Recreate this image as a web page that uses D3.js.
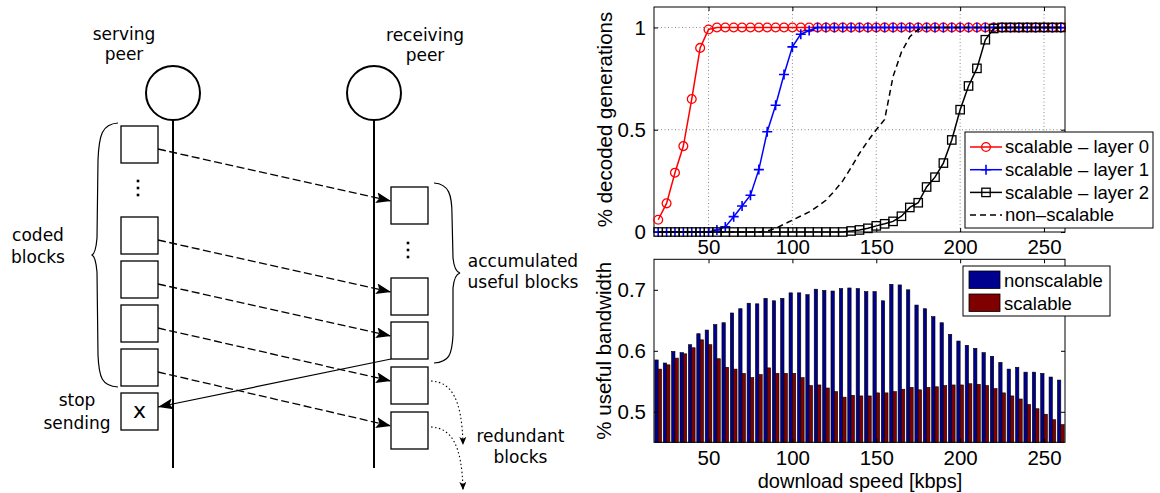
<!DOCTYPE html>
<meta charset="utf-8">
<script src="https://d3js.org/d3.v7.min.js"></script>
<style>
  body { margin: 0; background: #fff; }
  .chart text { font-family: "Liberation Sans", Arial, sans-serif; }
  .diagram text { font-family: "DejaVu Sans", sans-serif; fill: #000; }
</style>
<body>
<svg id="fig" width="1160" height="493"></svg>
<script>
// ---- data ----
// download speed [kbps]
var speeds = [20,25,30,35,40,45,50,55,60,65,70,75,80,85,90,95,100,105,110,115,120,125,130,135,140,
              145,150,155,160,165,170,175,180,185,190,195,200,205,210,215,220,225,230,235,240,245,250,255,260];

// % decoded generations
var layer0 = [0.06,0.14,0.29,0.42,0.65,0.90,0.99,1,1,1,1,1,1,1,1,1,1,1,1,1,1,1,1,1,1,
              1,1,1,1,1,1,1,1,1,1,1,1,1,1,1,1,1,1,1,1,1,1,1,1];
var layer1 = [0,0,0,0,0,0,0,0.01,0.025,0.075,0.127,0.18,0.305,0.49,0.62,0.77,0.905,0.967,0.985,1,1,1,1,1,1,
              1,1,1,1,1,1,1,1,1,1,1,1,1,1,1,1,1,1,1,1,1,1,1,1];
var layer2 = [0,0,0,0,0,0,0,0,0,0,0,0,0,0,0,0,0,0,0,0,0,0,0,0.005,0.01,
              0.018,0.03,0.04,0.052,0.077,0.12,0.143,0.22,0.268,0.337,0.45,0.598,0.714,0.8,0.94,0.995,1,1,1,1,1,1,1,1];
var nonScalable = [0,0,0,0,0,0,0,0,0,0,0,0,0,0.005,0.018,0.038,0.058,0.078,0.098,0.125,0.155,0.2,0.25,0.315,0.385,
                   0.445,0.5,0.55,0.76,0.88,0.955,0.99,1,1,1,1,1,1,1,1,1,1,1,1,1,1,1,1,1];

// % useful bandwidth
var bwNonscalable = [0.585,0.580,0.599,0.597,0.610,0.628,0.634,0.643,0.646,0.662,0.669,0.678,0.677,0.686,0.682,0.686,
                     0.695,0.695,0.692,0.701,0.699,0.698,0.702,0.703,0.702,0.697,0.697,0.682,0.709,0.708,0.700,0.675,
                     0.669,0.656,0.646,0.627,0.616,0.609,0.604,0.597,0.591,0.581,0.570,0.573,0.565,0.565,0.563,0.557,0.552];
var bwScalable = [0.570,0.577,0.588,0.595,0.605,0.618,0.610,0.587,0.573,0.570,0.563,0.556,0.561,0.572,0.563,0.563,
                  0.563,0.556,0.543,0.544,0.539,0.533,0.524,0.527,0.526,0.526,0.531,0.531,0.533,0.537,0.540,0.536,
                  0.540,0.541,0.543,0.544,0.544,0.546,0.545,0.543,0.538,0.531,0.526,0.521,0.512,0.505,0.496,0.487,0.479];

var xTicks = [50,100,150,200,250];
var yTicksTop = [0,0.5,1];
var yTicksBot = [0.5,0.6,0.7];

var svg = d3.select("#fig");

// defs: arrow heads
var defs = svg.append("defs");
defs.append("marker").attr("id","arrow").attr("markerUnits","userSpaceOnUse")
    .attr("viewBox","0 0 15 11").attr("refX",15).attr("refY",5.5)
    .attr("markerWidth",15).attr("markerHeight",11).attr("orient","auto")
  .append("path").attr("d","M0,0 L15,5.5 L0,11 L3,5.5 z").attr("fill","#000");
defs.append("marker").attr("id","arrowSmall").attr("markerUnits","userSpaceOnUse")
    .attr("viewBox","0 0 8 7").attr("refX",8).attr("refY",3.5)
    .attr("markerWidth",8).attr("markerHeight",7).attr("orient","auto")
  .append("path").attr("d","M0,0 L8,3.5 L0,7 L2,3.5 z").attr("fill","#000");

// =================== left: diagram ===================
var diag = svg.append("g").attr("class","diagram");
var serveX = 173, recvX = 374, peerY = 93, peerR = 27, lineTop = 120, lineBottom = 468;
var blockW = 37;
var serveBlockX = 121, serveTops = [126,217,261,305,349,393];
var recvBlockX = 391, recvTops = [187,278,322,367,412];

[serveX, recvX].forEach(function(cx){
  diag.append("circle").attr("cx",cx).attr("cy",peerY).attr("r",peerR)
      .attr("fill","none").attr("stroke","#000").attr("stroke-width",2);
  diag.append("line").attr("x1",cx).attr("x2",cx).attr("y1",lineTop).attr("y2",lineBottom)
      .attr("stroke","#000").attr("stroke-width",2);
});

// dashed send arrows (serving block i -> receiving block i)
var sendPairs = recvTops.map(function(r,i){ return [serveTops[i], r]; });
diag.selectAll(".send").data(sendPairs).enter().append("line")
    .attr("x1",serveBlockX+blockW).attr("y1",function(d){return d[0]+23;})
    .attr("x2",recvBlockX).attr("y2",function(d){return d[1]+14;})
    .attr("stroke","#000").attr("stroke-width",1.3).attr("stroke-dasharray","8,3.5")
    .attr("marker-end","url(#arrow)");

// feedback arrow
diag.append("line").attr("x1",recvBlockX).attr("y1",recvTops[2]+blockW)
    .attr("x2",serveBlockX+blockW).attr("y2",serveTops[5]+14)
    .attr("stroke","#000").attr("stroke-width",1.2).attr("marker-end","url(#arrow)");

// blocks
diag.selectAll(".sb").data(serveTops).enter().append("rect")
    .attr("x",serveBlockX).attr("y",function(d){return d;}).attr("width",blockW).attr("height",blockW)
    .attr("fill","#fff").attr("stroke","#000").attr("stroke-width",1.3);
diag.selectAll(".rb").data(recvTops).enter().append("rect")
    .attr("x",recvBlockX).attr("y",function(d){return d;}).attr("width",blockW).attr("height",blockW)
    .attr("fill","#fff").attr("stroke","#000").attr("stroke-width",1.3);

// vertical ellipses
[[138,[181,188,195]],[408,[243,250,257]]].forEach(function(e){
  e[1].forEach(function(y){
    diag.append("rect").attr("x",e[0]-1.3).attr("y",y-1.3).attr("width",2.6).attr("height",2.6).attr("fill","#000");
  });
});

// braces
diag.append("path")
    .attr("d","M118,123 C102,124 99,135 98,160 L97,238 C96,250 94,254 92,255 C94,256 96,260 97,272 L98,355 C99,378 102,386 118,387")
    .attr("fill","none").attr("stroke","#000").attr("stroke-width",1.2);
diag.append("path")
    .attr("d","M434,183 C449,184 452,195 452,215 L453,258 C454,268 456,272 460,273 C456,274 454,278 453,288 L453,335 C452,355 449,362 434,363")
    .attr("fill","none").attr("stroke","#000").attr("stroke-width",1.2);

// redundant dotted arrows
diag.append("path").attr("d","M431,381 C452,382 462,400 463,445")
    .attr("fill","none").attr("stroke","#000").attr("stroke-width",1.1).attr("stroke-dasharray","1.5,2.5")
    .attr("marker-end","url(#arrowSmall)");
diag.append("path").attr("d","M431,427 C452,428 462,446 463,490")
    .attr("fill","none").attr("stroke","#000").attr("stroke-width",1.1).attr("stroke-dasharray","1.5,2.5")
    .attr("marker-end","url(#arrowSmall)");

// diagram text
function label(lines, cx, y0, dy, size){
  lines.forEach(function(s,i){
    diag.append("text").attr("x",cx).attr("y",y0+i*dy).attr("text-anchor","middle")
        .attr("font-size",size||17).text(s);
  });
}
label(["serving","peer"],124,40,20);
label(["receiving","peer"],425,41,20);
label(["coded","blocks"],38,240.5,22);
label(["stop","sending"],77,406,23);
label(["accumulated","useful blocks"],523,266.5,21.5);
label(["redundant","blocks"],520.5,441.5,21.5);
diag.append("text").attr("x",serveBlockX+blockW/2).attr("y",418).attr("text-anchor","middle")
    .attr("font-size",22).text("x");

// =================== right: charts ===================
var chart = svg.append("g").attr("class","chart");
var x = d3.scaleLinear().domain([17.5,262.5]).range([654,1065]);
var yTop = d3.scaleLinear().domain([0,1.1]).range([232,7]);
var yBot = d3.scaleLinear().domain([0.45,0.75]).range([442.3,259.3]);

function grid(g, y, yTicks){
  var x0 = x.range()[0], x1 = x.range()[1], y0 = y.range()[0], y1 = y.range()[1];
  g.selectAll(".gx").data(xTicks).enter().append("line")
    .attr("x1",function(d){return x(d);}).attr("x2",function(d){return x(d);})
    .attr("y1",y0).attr("y2",y1).attr("stroke","#8a8a8a").attr("stroke-dasharray","1,2.5");
  g.selectAll(".gy").data(yTicks.filter(function(d){return d>y.domain()[0];})).enter().append("line")
    .attr("x1",x0).attr("x2",x1).attr("y1",function(d){return y(d);}).attr("y2",function(d){return y(d);})
    .attr("stroke","#8a8a8a").attr("stroke-dasharray","1,2.5");
}

function axes(g, y, yTicks, xPad){
  var x0 = x.range()[0], x1 = x.range()[1], y0 = y.range()[0], y1 = y.range()[1];
  var aB = g.append("g").attr("transform","translate(0,"+y0+")")
    .call(d3.axisBottom(x).tickValues(xTicks).tickSize(-4).tickPadding(xPad));
  var aT = g.append("g").attr("transform","translate(0,"+y1+")")
    .call(d3.axisTop(x).tickValues(xTicks).tickSize(-4).tickFormat(""));
  var aL = g.append("g").attr("transform","translate("+x0+",0)")
    .call(d3.axisLeft(y).tickValues(yTicks).tickSize(-4).tickPadding(8).tickFormat(d3.format("")));
  var aR = g.append("g").attr("transform","translate("+x1+",0)")
    .call(d3.axisRight(y).tickValues(yTicks).tickSize(-4).tickFormat(""));
  [aB,aT,aL,aR].forEach(function(a){
    a.select(".domain").remove();
    a.selectAll("line").attr("stroke","#000");
    a.selectAll("text").attr("font-size",20.5).attr("fill","#000")
      .attr("font-family","Liberation Sans, Arial, sans-serif");
  });
  g.append("rect").attr("x",x0).attr("y",y1).attr("width",x1-x0).attr("height",y0-y1)
    .attr("fill","none").attr("stroke","#000").attr("stroke-width",1);
}

// ---- top panel ----
var topPanel = chart.append("g");
grid(topPanel, yTop, yTicksTop);
axes(topPanel, yTop, yTicksTop, 7);

var series = [
  {name:"scalable \u2013 layer 0", values:layer0, color:"#ff0000", marker:"circle"},
  {name:"scalable \u2013 layer 1", values:layer1, color:"#0000ff", marker:"plus"},
  {name:"scalable \u2013 layer 2", values:layer2, color:"#000000", marker:"square"},
  {name:"non\u2013scalable", values:nonScalable, color:"#000000", marker:"none", dash:"6,4"}
];

function drawMarker(sel, s){
  if (s.marker === "circle") {
    sel.append("circle").attr("r",4.4).attr("fill","none").attr("stroke",s.color).attr("stroke-width",1.3);
  } else if (s.marker === "plus") {
    sel.append("path").attr("d","M-5,0H5M0,-5V5").attr("stroke",s.color).attr("stroke-width",1.6);
  } else if (s.marker === "square") {
    sel.append("rect").attr("x",-4.2).attr("y",-4.2).attr("width",8.4).attr("height",8.4)
      .attr("fill","none").attr("stroke",s.color).attr("stroke-width",1.3);
  }
}

var line = d3.line().x(function(d,i){return x(speeds[i]);}).y(function(d){return yTop(d);});
series.forEach(function(s){
  topPanel.append("path").datum(s.values).attr("d",line).attr("fill","none")
     .attr("stroke",s.color).attr("stroke-width",1.5).attr("stroke-dasharray",s.dash||null);
  if (s.marker !== "none") {
    topPanel.selectAll(null).data(s.values).enter().append("g")
      .attr("transform",function(d,i){return "translate("+x(speeds[i])+","+yTop(d)+")";})
      .each(function(){ drawMarker(d3.select(this), s); });
  }
});

topPanel.append("text").attr("transform","translate(612,"+((yTop.range()[0]+yTop.range()[1])/2)+") rotate(-90)")
   .attr("text-anchor","middle").attr("font-size",20.5).text("% decoded generations");

// legend
var lg = topPanel.append("g").attr("transform","translate(965,132)");
lg.append("rect").attr("width",188).attr("height",96).attr("fill","#fff").attr("stroke","#000");
series.forEach(function(s,i){
  var row = lg.append("g").attr("transform","translate(0,"+(15+i*22.7)+")");
  row.append("line").attr("x1",5).attr("x2",37).attr("stroke",s.color).attr("stroke-width",1.5)
     .attr("stroke-dasharray",s.dash||null);
  var m = row.append("g").attr("transform","translate(21,0)");
  drawMarker(m, s);
  row.append("text").attr("x",40).attr("y",6.3).attr("font-size",18.5).text(s.name);
});

// ---- bottom panel ----
var botPanel = chart.append("g");
var step = x(speeds[1]) - x(speeds[0]);
var sub = d3.scaleBand().domain(["nonscalable","scalable"]).range([-0.4*step,0.4*step]).padding(0);
var barSeries = [
  {key:"nonscalable", values:bwNonscalable, color:"rgb(0,0,143)"},
  {key:"scalable", values:bwScalable, color:"rgb(128,0,0)"}
];
barSeries.forEach(function(b){
  botPanel.selectAll(null).data(b.values).enter().append("rect")
    .attr("x",function(d,i){return x(speeds[i])+sub(b.key);})
    .attr("width",sub.bandwidth())
    .attr("y",function(d){return yBot(d);})
    .attr("height",function(d){return yBot.range()[0]-yBot(d);})
    .attr("fill",b.color).attr("stroke","#000").attr("stroke-width",0.6);
});
axes(botPanel, yBot, yTicksBot, 8);

botPanel.append("text").attr("transform","translate(611,"+((yBot.range()[0]+yBot.range()[1])/2)+") rotate(-90)")
   .attr("text-anchor","middle").attr("font-size",20.5).text("% useful bandwidth");
botPanel.append("text").attr("x",860).attr("y",487.5).attr("text-anchor","middle")
   .attr("font-size",20).text("download speed [kbps]");

var lb = botPanel.append("g").attr("transform","translate(963,266)");
lb.append("rect").attr("width",147).attr("height",50).attr("fill","#fff").attr("stroke","#000");
barSeries.forEach(function(b,i){
  lb.append("rect").attr("x",6).attr("y",5+i*23).attr("width",31).attr("height",17.5)
    .attr("fill",b.color).attr("stroke","#000").attr("stroke-width",0.8);
  lb.append("text").attr("x",41).attr("y",21+i*23).attr("font-size",18.5).text(b.key);
});
</script>
</body>
